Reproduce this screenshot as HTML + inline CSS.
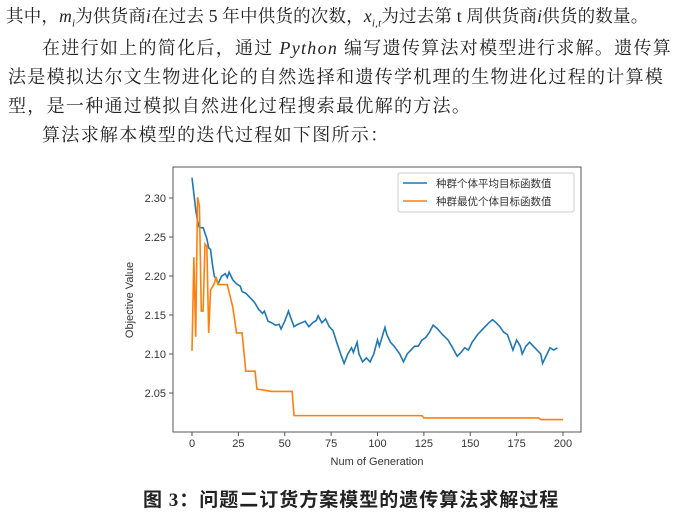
<!DOCTYPE html>
<html><head><meta charset="utf-8">
<style>
body{margin:0;background:#fff;width:700px;height:512px;overflow:hidden;position:relative;font-family:"Liberation Serif","Noto Serif CJK SC",serif;color:#222}
.line{position:absolute;left:8px;font-size:18px;white-space:nowrap;letter-spacing:1.3px}
.cap{position:absolute;left:143px;top:485px;font-size:19px;font-weight:bold;font-family:"Liberation Serif","Noto Sans CJK SC",sans-serif;letter-spacing:1px}
svg text{font-family:"Liberation Sans","Noto Sans CJK SC",sans-serif;fill:#333}
</style></head><body>
<div class="line" style="top:3px;left:6px;letter-spacing:0.2px;font-size:17.5px">其中，<i>m<sub style="font-size:11px">i</sub></i>为供货商<i>i</i>在过去 5 年中供货的次数，<i>x<sub style="font-size:11px">i,t</sub></i>为过去第 t 周供货商<i>i</i>供货的数量。</div>
<div class="line" style="top:34px;left:42px">在进行如上的简化后，通过 <i>Python</i> 编写遗传算法对模型进行求解。遗传算</div>
<div class="line" style="top:63px">法是模拟达尔文生物进化论的自然选择和遗传学机理的生物进化过程的计算模</div>
<div class="line" style="top:92px">型，是一种通过模拟自然进化过程搜索最优解的方法。</div>
<div class="line" style="top:121px;left:42px">算法求解本模型的迭代过程如下图所示：</div>
<svg id="chart" width="700" height="512" style="position:absolute;left:0;top:0"></svg>
<div class="cap">图 3：问题二订货方案模型的遗传算法求解过程</div>
<script>
const avgGens=[0,2,3,4,6,7,8,9,10,11,12,13,14,16,18,19,20,22,24,26,27,29,31,33,34,36,38,39,41,43,45,47,48,50,52,53,55,57,59,61,63,65,67,68,70,72,74,76,78,80,82,84,86,87,89,90,92,94,96,98,100,101,104,105,107,109,112,114,116,118,120,122,124,126,128,130,132,135,138,140,143,145,147,149,151,154,156,158,160,162,164,166,168,170,172,173,175,177,178,180,182,184,186,188,189,191,193,195,197];
const avgVals=[2.326,2.285,2.27,2.262,2.262,2.255,2.248,2.236,2.234,2.215,2.2,2.196,2.19,2.2,2.203,2.198,2.205,2.195,2.19,2.187,2.18,2.178,2.173,2.168,2.165,2.157,2.152,2.155,2.142,2.14,2.137,2.138,2.132,2.142,2.155,2.148,2.135,2.138,2.14,2.142,2.135,2.14,2.143,2.149,2.14,2.145,2.135,2.13,2.115,2.101,2.088,2.1,2.108,2.102,2.115,2.1,2.09,2.095,2.09,2.1,2.118,2.11,2.134,2.125,2.115,2.11,2.1,2.09,2.1,2.105,2.11,2.11,2.118,2.121,2.128,2.137,2.133,2.125,2.118,2.11,2.097,2.102,2.108,2.105,2.115,2.125,2.13,2.135,2.14,2.144,2.14,2.135,2.128,2.125,2.112,2.105,2.118,2.11,2.1,2.11,2.115,2.11,2.105,2.1,2.088,2.098,2.108,2.105,2.108];
const bestGens=[0,1,2,3,4,5,6,7,8,9,10,12,13,14,19,22,24,27,29,34,35,43,54,55,124,125,187,188,200];
const bestVals=[2.104,2.224,2.122,2.301,2.29,2.155,2.155,2.241,2.238,2.127,2.182,2.19,2.199,2.189,2.189,2.16,2.127,2.127,2.078,2.078,2.055,2.052,2.052,2.021,2.021,2.018,2.018,2.016,2.016];
const xTicks=[0,25,50,75,100,125,150,175,200];
const yTicks=[2.05,2.10,2.15,2.20,2.25,2.30];
const seriesNames=["种群个体平均目标函数值","种群最优个体目标函数值"];
const X=g=>192+(g/200)*(563-192);
const Y=v=>198+(2.30-v)/0.25*(393-198);
const svg=document.getElementById('chart');
const NS='http://www.w3.org/2000/svg';
function mk(t,a){const e=document.createElementNS(NS,t);for(const k in a)e.setAttribute(k,a[k]);svg.appendChild(e);return e;}
const frame=mk('rect',{x:173,y:167,width:408,height:265,fill:'none',stroke:'#555','stroke-width':1});


xTicks.forEach(t=>{
 const l=mk('line',{x1:X(t),x2:X(t),y1:432,y2:436,stroke:'#555'});
 
 
 const tx=mk('text',{x:X(t),y:447,'font-size':11,'text-anchor':'middle'});tx.textContent=t;
 
 
});
yTicks.forEach(t=>{
 const l=mk('line',{x1:169,x2:173,y1:Y(t),y2:Y(t),stroke:'#555'});
 
 
 const tx=mk('text',{x:166,y:Y(t)+4,'font-size':11,'text-anchor':'end'});tx.textContent=t.toFixed(2);
 
 
});
const xl=mk('text',{x:377,y:465,'font-size':11,'text-anchor':'middle'});xl.textContent='Num of Generation';


const yl=mk('text',{x:0,y:0,'font-size':11,'text-anchor':'middle',transform:'translate(133,300) rotate(-90)'});yl.textContent='Objective Value';


const p1=mk('polyline',{points:avgGens.map((g,i)=>X(g)+','+Y(avgVals[i])).join(' '),fill:'none',stroke:'#1f77b4','stroke-width':1.6});


const p2=mk('polyline',{points:bestGens.map((g,i)=>X(g)+','+Y(bestVals[i])).join(' '),fill:'none',stroke:'#ff7f0e','stroke-width':1.6});


const lg=mk('rect',{x:398,y:173,width:176,height:39,fill:'#fff',stroke:'#ccc',rx:2});


['#1f77b4','#ff7f0e'].forEach((c,i)=>{
 const yy=183+i*18;
 const l=mk('line',{x1:403,x2:427,y1:yy,y2:yy,stroke:c,'stroke-width':1.6});
 
 
 const t=mk('text',{x:436,y:yy+4,'font-size':10.5});t.textContent=seriesNames[i];
 
 
});
</script>
</body></html>
